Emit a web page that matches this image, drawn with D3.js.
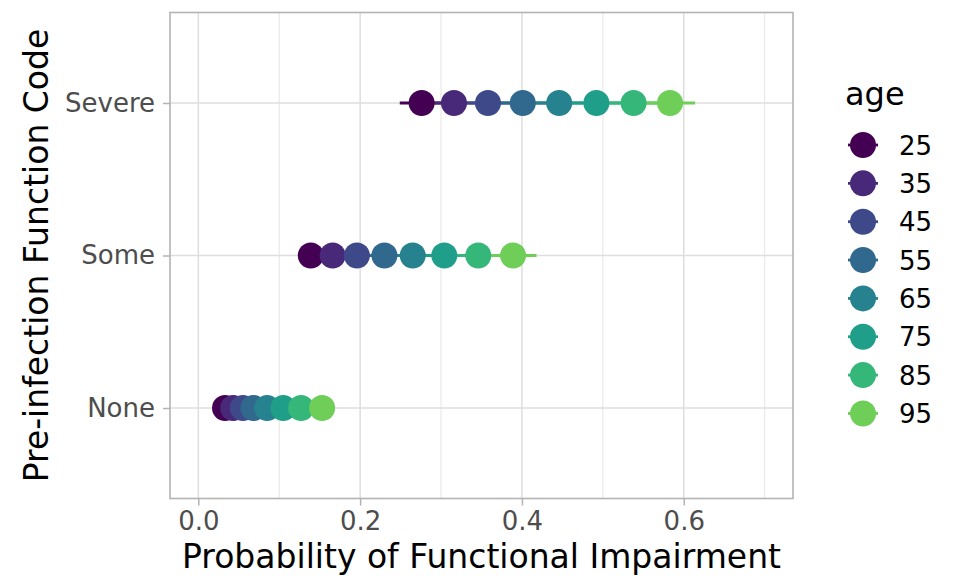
<!DOCTYPE html>
<html>
<head>
<meta charset="utf-8">
<script src="https://cdn.jsdelivr.net/npm/d3@7"></script>
<style>
  body { margin: 0; background: #fff; }
  text { font-family: "DejaVu Sans", sans-serif; }
</style>
</head>
<body>
<div id="chart"></div>
<script>
// data
var ages = [25, 35, 45, 55, 65, 75, 85, 95];
var levels = ["None", "Some", "Severe"];
var xTicks = [0, 0.2, 0.4, 0.6];

var probNone   = [0.033, 0.043, 0.055, 0.068, 0.085, 0.105, 0.127, 0.153];
var loNone     = [0.028, 0.037, 0.048, 0.060, 0.076, 0.095, 0.116, 0.141];
var hiNone     = [0.038, 0.049, 0.062, 0.076, 0.094, 0.115, 0.138, 0.165];

var probSome   = [0.139, 0.166, 0.196, 0.230, 0.265, 0.304, 0.346, 0.389];
var loSome     = [0.125, 0.150, 0.178, 0.210, 0.243, 0.279, 0.319, 0.360];
var hiSome     = [0.153, 0.182, 0.214, 0.250, 0.287, 0.329, 0.373, 0.418];

var probSevere = [0.276, 0.316, 0.358, 0.401, 0.446, 0.492, 0.538, 0.583];
var loSevere   = [0.249, 0.289, 0.330, 0.372, 0.416, 0.461, 0.507, 0.552];
var hiSevere   = [0.304, 0.344, 0.387, 0.431, 0.476, 0.522, 0.569, 0.614];

var rows = [];
[[ "None", probNone, loNone, hiNone ],
 [ "Some", probSome, loSome, hiSome ],
 [ "Severe", probSevere, loSevere, hiSevere ]].forEach(function(r){
    ages.forEach(function(a, i){
        rows.push({level: r[0], age: a, p: r[1][i], lo: r[2][i], hi: r[3][i]});
    });
});

var width = 956, height = 581;
var panel = {left: 170, right: 793, top: 12.5, bottom: 498.5};

var svg = d3.select("#chart").append("svg")
    .attr("width", width)
    .attr("height", height);

var x = d3.scaleLinear()
    .domain([-0.035, 0.735])
    .range([panel.left, panel.right]);

var y = d3.scalePoint()
    .domain(levels)
    .range([408, 103]);

var color = d3.scaleOrdinal()
    .domain(ages)
    .range(ages.map(function(d, i){ return d3.interpolateViridis(i / 9); }));

// grid
var minor = [0.1, 0.3, 0.5, 0.7];
svg.append("g").selectAll("line")
    .data(minor)
    .join("line")
      .attr("x1", d => x(d)).attr("x2", d => x(d))
      .attr("y1", panel.top).attr("y2", panel.bottom)
      .attr("stroke", "#DEDEDE").attr("stroke-width", 0.8);

svg.append("g").selectAll("line")
    .data(xTicks)
    .join("line")
      .attr("x1", d => x(d)).attr("x2", d => x(d))
      .attr("y1", panel.top).attr("y2", panel.bottom)
      .attr("stroke", "#DEDEDE").attr("stroke-width", 1.5);

svg.append("g").selectAll("line")
    .data(levels)
    .join("line")
      .attr("x1", panel.left).attr("x2", panel.right)
      .attr("y1", d => y(d)).attr("y2", d => y(d))
      .attr("stroke", "#DEDEDE").attr("stroke-width", 1.5);

// intervals, then points
svg.append("g").selectAll("line")
    .data(rows)
    .join("line")
      .attr("x1", d => x(d.lo)).attr("x2", d => x(d.hi))
      .attr("y1", d => y(d.level)).attr("y2", d => y(d.level))
      .attr("stroke", d => color(d.age))
      .attr("stroke-width", 2.8);

svg.append("g").selectAll("circle")
    .data(rows)
    .join("circle")
      .attr("cx", d => x(d.p))
      .attr("cy", d => y(d.level))
      .attr("r", 13)
      .attr("fill", d => color(d.age));

// panel border
svg.append("rect")
    .attr("x", panel.left).attr("y", panel.top)
    .attr("width", panel.right - panel.left)
    .attr("height", panel.bottom - panel.top)
    .attr("fill", "none")
    .attr("stroke", "#B3B3B3")
    .attr("stroke-width", 1.6);

// axes
var xAxis = svg.append("g")
    .attr("transform", "translate(0," + panel.bottom + ")")
    .call(d3.axisBottom(x).tickValues(xTicks).tickFormat(d3.format(".1f"))
        .tickSize(7).tickPadding(6));

var yAxis = svg.append("g")
    .attr("transform", "translate(" + panel.left + ",0)")
    .call(d3.axisLeft(y).tickSize(7).tickPadding(8));

[xAxis, yAxis].forEach(function(a){
    a.select(".domain").remove();
    a.selectAll(".tick line").attr("stroke", "#B3B3B3").attr("stroke-width", 1.5);
    a.selectAll(".tick text")
        .attr("fill", "#4D4D4D")
        .attr("font-size", "26px")
        .attr("font-family", "DejaVu Sans");
});

// title sits mostly above the top edge, as in the reference
svg.append("text")
    .attr("x", 170)
    .attr("y", -8.5)
    .attr("font-size", "39px")
    .text("Age Effect by Pre-infection Function");

svg.append("text")
    .attr("x", (panel.left + panel.right) / 2)
    .attr("y", 568)
    .attr("text-anchor", "middle")
    .attr("font-size", "33px")
    .text("Probability of Functional Impairment");

svg.append("text")
    .attr("transform", "translate(48," + ((panel.top + panel.bottom) / 2) + ") rotate(-90)")
    .attr("text-anchor", "middle")
    .attr("font-size", "33px")
    .text("Pre-infection Function Code");

// legend
var legend = svg.append("g");
legend.append("text")
    .attr("x", 845)
    .attr("y", 105)
    .attr("font-size", "32px")
    .text("age");

var keys = legend.selectAll("g.key")
    .data(ages)
    .join("g")
      .attr("class", "key")
      .attr("transform", (d, i) => "translate(863," + (145 + i * 38.35) + ")");

keys.append("line")
    .attr("x1", -15).attr("x2", 15)
    .attr("stroke", d => color(d))
    .attr("stroke-width", 2.8);

keys.append("circle")
    .attr("r", 13)
    .attr("fill", d => color(d));

keys.append("text")
    .attr("x", 36)
    .attr("y", 9.5)
    .attr("font-size", "26px")
    .text(d => d);
</script>
</body>
</html>
